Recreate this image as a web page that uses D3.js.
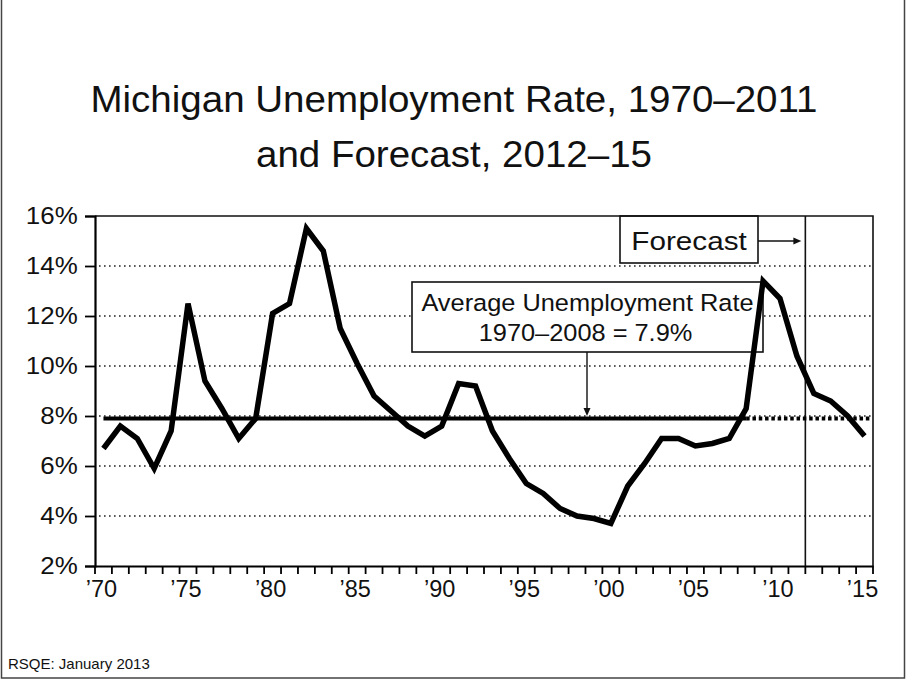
<!DOCTYPE html>
<html>
<head>
<meta charset="utf-8">
<script src="https://cdn.jsdelivr.net/npm/d3@7/dist/d3.min.js"></script>
<style>
  html, body { margin: 0; padding: 0; background: #fff; }
  svg { display: block; }
  text { font-family: "Liberation Sans", Arial, Helvetica, sans-serif; fill: #111; }
</style>
</head>
<body>
<svg id="chart" width="908" height="681"></svg>
<script>
// Michigan annual unemployment rate (%), 1970–2011 actual, 2012–15 forecast
const years = [1970, 1971, 1972, 1973, 1974, 1975, 1976, 1977, 1978, 1979,
               1980, 1981, 1982, 1983, 1984, 1985, 1986, 1987, 1988, 1989,
               1990, 1991, 1992, 1993, 1994, 1995, 1996, 1997, 1998, 1999,
               2000, 2001, 2002, 2003, 2004, 2005, 2006, 2007, 2008, 2009,
               2010, 2011, 2012, 2013, 2014, 2015];
const rates = [6.7, 7.6, 7.1, 5.9, 7.4, 12.5, 9.4, 8.3, 7.1, 7.9,
               12.1, 12.5, 15.5, 14.6, 11.5, 10.1, 8.8, 8.2, 7.6, 7.2,
               7.6, 9.3, 9.2, 7.4, 6.3, 5.3, 4.9, 4.3, 4.0, 3.9,
               3.7, 5.2, 6.1, 7.1, 7.1, 6.8, 6.9, 7.1, 8.3, 13.4,
               12.7, 10.4, 8.9, 8.6, 8.0, 7.2];
const yTicks = [2, 4, 6, 8, 10, 12, 14, 16];
const xLabelYears = [1970, 1975, 1980, 1985, 1990, 1995, 2000, 2005, 2010, 2015];
const averageRate = 7.9;
const averageFromYear = 1970;
const averageToYear = 2008;
const forecastFromYear = 2012;

const titleLines = ["Michigan Unemployment Rate, 1970\u20132011", "and Forecast, 2012\u201315"];
const forecastLabel = "Forecast";
const averageLabelLines = ["Average Unemployment Rate", "1970\u20132008 = 7.9%"];
const sourceNote = "RSQE: January 2013";

const series = years.map((yr, i) => ({ year: yr, rate: rates[i] }));

const svg = d3.select("#chart");

// plot rectangle
const plotLeft = 95, plotRight = 873, plotTop = 216, plotBottom = 566;

const x = d3.scaleBand().domain(years).range([plotLeft, plotRight]).paddingInner(0).paddingOuter(0);
const y = d3.scaleLinear().domain([2, 16]).range([plotBottom, plotTop]);
const cx = yr => x(yr) + x.bandwidth() / 2;

// text with slight horizontal stretch
function stretchedText(parent, px, py, str, size, anchor, sx) {
  return parent.append("text")
    .attr("transform", `translate(${px},${py}) scale(${sx},1)`)
    .attr("text-anchor", anchor)
    .style("font-size", size + "px")
    .text(str);
}

// page frame
svg.append("path")
  .attr("d", "M1.5,0 V678 H904.5 V0")
  .attr("fill", "none").attr("stroke", "#444").attr("stroke-width", 1.5);

// title
stretchedText(svg, 454, 112, titleLines[0], 36, "middle", 1.07);
stretchedText(svg, 454, 167, titleLines[1], 36, "middle", 1.07);

// dotted horizontal gridlines
svg.append("g").selectAll("line")
  .data(yTicks.filter(t => t > 2 && t < 16))
  .join("line")
  .attr("x1", plotLeft + 4).attr("x2", plotRight)
  .attr("y1", d => y(d)).attr("y2", d => y(d))
  .attr("stroke", "#222").attr("stroke-width", 1.6)
  .attr("stroke-dasharray", "1.6,3.4");

// forecast divider
svg.append("line")
  .attr("x1", x(forecastFromYear)).attr("x2", x(forecastFromYear))
  .attr("y1", plotTop).attr("y2", plotBottom)
  .attr("stroke", "#111").attr("stroke-width", 1.6);

// annotation boxes
const fcBox = { x: 620, y: plotTop, w: 138, h: 47 };
svg.append("rect")
  .attr("x", fcBox.x).attr("y", fcBox.y).attr("width", fcBox.w).attr("height", fcBox.h)
  .attr("fill", "#fff").attr("stroke", "#111").attr("stroke-width", 1.6);
stretchedText(svg, fcBox.x + fcBox.w / 2, 250, forecastLabel, 26.5, "middle", 1.12);

const arrowY = 241;
const fcArrowEnd = x(forecastFromYear) - 4;
svg.append("line")
  .attr("x1", fcBox.x + fcBox.w).attr("x2", fcArrowEnd - 6)
  .attr("y1", arrowY).attr("y2", arrowY)
  .attr("stroke", "#111").attr("stroke-width", 1.4);
svg.append("path")
  .attr("d", `M${fcArrowEnd},${arrowY} l-8,-3.5 v7 z`)
  .attr("fill", "#111");

const avBox = { x: 412, y: 282, w: 351, h: 70 };
svg.append("rect")
  .attr("x", avBox.x).attr("y", avBox.y).attr("width", avBox.w).attr("height", avBox.h)
  .attr("fill", "#fff").attr("stroke", "#111").attr("stroke-width", 1.6);
stretchedText(svg, avBox.x + avBox.w / 2, 311, averageLabelLines[0], 23.5, "middle", 1.08);
stretchedText(svg, avBox.x + avBox.w / 2 - 2, 341, averageLabelLines[1], 23.5, "middle", 1.08);

const avArrowX = 587;
const avArrowEnd = y(averageRate) - 2.5;
svg.append("line")
  .attr("x1", avArrowX).attr("x2", avArrowX)
  .attr("y1", avBox.y + avBox.h).attr("y2", avArrowEnd - 6)
  .attr("stroke", "#111").attr("stroke-width", 1.4);
svg.append("path")
  .attr("d", `M${avArrowX},${avArrowEnd} l-3.5,-8 h7 z`)
  .attr("fill", "#111");

// average rate line: solid over the averaging period, dashed beyond it
svg.append("line")
  .attr("x1", cx(averageFromYear)).attr("x2", cx(averageToYear))
  .attr("y1", y(averageRate)).attr("y2", y(averageRate))
  .attr("stroke", "#000").attr("stroke-width", 4);
svg.append("line")
  .attr("x1", cx(averageToYear)).attr("x2", cx(years[years.length - 1]) + 5)
  .attr("y1", y(averageRate)).attr("y2", y(averageRate))
  .attr("stroke", "#000").attr("stroke-width", 4)
  .attr("stroke-dasharray", "3.5,2.8");

// unemployment rate series
const line = d3.line().x(d => cx(d.year)).y(d => y(d.rate));
svg.append("path")
  .datum(series)
  .attr("d", line)
  .attr("fill", "none")
  .attr("stroke", "#000")
  .attr("stroke-width", 5.5)
  .attr("stroke-linejoin", "miter")
  .attr("stroke-miterlimit", 3);

// plot frame: top and right edges
svg.append("path")
  .attr("d", `M${plotLeft},${plotTop} H${plotRight} V${plotBottom}`)
  .attr("fill", "none").attr("stroke", "#111").attr("stroke-width", 1.6);

// y axis
const yAxis = svg.append("g")
  .attr("transform", `translate(${plotLeft},0)`)
  .call(d3.axisLeft(y).tickValues(yTicks).tickSize(10).tickPadding(6).tickFormat(d => d + "%"));
yAxis.select(".domain").attr("stroke", "#000").attr("stroke-width", 2.2);
yAxis.selectAll(".tick line").attr("stroke", "#000").attr("stroke-width", 1.8);
yAxis.selectAll(".tick text")
  .style("font-size", "24px")
  .style("font-family", "'Liberation Sans', Arial, sans-serif")
  .attr("fill", "#111")
  .attr("transform", "scale(1.08,1)");

// x axis: year boundaries as ticks, labels every five years
const xAxis = svg.append("g")
  .attr("transform", `translate(0,${plotBottom})`)
  .call(d3.axisBottom(x).tickValues(xLabelYears).tickSize(0).tickPadding(14)
    .tickFormat(d => "\u2019" + String(d).slice(2)));
xAxis.select(".domain").attr("stroke", "#000").attr("stroke-width", 2.2);
xAxis.selectAll(".tick text")
  .style("font-size", "23.5px")
  .style("font-family", "'Liberation Sans', Arial, sans-serif")
  .attr("fill", "#111")
  .attr("dx", "-2");

const boundaries = years.map(yr => x(yr)).concat([plotRight]);
svg.append("g").selectAll("line")
  .data(boundaries)
  .join("line")
  .attr("x1", d => d).attr("x2", d => d)
  .attr("y1", plotBottom).attr("y2", plotBottom + 8)
  .attr("stroke", "#000").attr("stroke-width", 1.8);

// source note
stretchedText(svg, 8, 669, sourceNote, 15, "start", 1.0);
</script>
</body>
</html>
